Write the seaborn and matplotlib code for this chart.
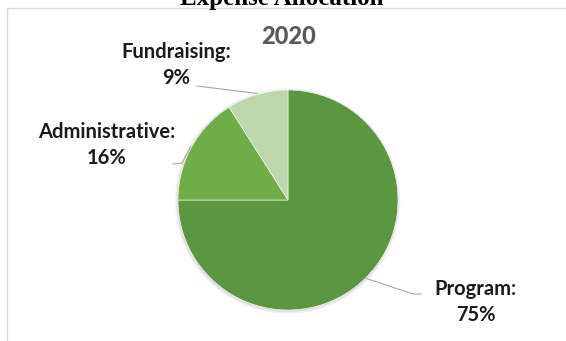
import numpy as np
import matplotlib
matplotlib.use("Agg")
import matplotlib.pyplot as plt
import seaborn as sns
from matplotlib.patches import Circle

sns.set_theme(style="white")
plt.rcParams['font.family'] = ['Lato', 'DejaVu Sans']

# ---- data ----
categories = ["Program", "Administrative", "Fundraising"]
values = [75, 16, 9]
colors = ["#5B9640", "#70AD47", "#BCD7AB"]
title = "Expense Allocation"
subtitle = "2020"

W, H = 566, 341
fig = plt.figure(figsize=(W / 100, H / 100), dpi=100)
fig.patch.set_facecolor("white")
ax = fig.add_axes([0, 0, 1, 1])
ax.set_xlim(0, W)
ax.set_ylim(0, H)
ax.axis("off")

def Y(y_top):
    return H - y_top

cx, cy, R = 288, Y(200), 110

# frame border
ax.plot([7, 7, W + 5], [-5, Y(7.5), Y(7.5)], color="#D9D9D9", lw=1.0, zorder=0)

# soft shadow
for i, a in enumerate([0.05, 0.04, 0.03]):
    ax.add_patch(Circle((cx - 0.5, cy - 1), R + 1 + i, color="black", alpha=a, lw=0, zorder=1))

wedges, _ = ax.pie(values, colors=colors, startangle=90, counterclock=False,
                   center=(cx, cy), radius=R, frame=True,
                   wedgeprops=dict(edgecolor="white", linewidth=0.4, zorder=2))
ax.set_xlim(0, W)
ax.set_ylim(0, H)
ax.axis("off")

# labels
label_pos = {
    "Program": (476, Y(302)),
    "Administrative": (107, Y(145)),
    "Fundraising": (176, Y(65)),
}
elbows = {
    "Program": [(413, Y(294)), (421, Y(294))],
    "Administrative": [(182, Y(163)), (173, Y(164))],
    "Fundraising": [(197, Y(86))],
}
for w, cat, v in zip(wedges, categories, values):
    ang = np.deg2rad((w.theta1 + w.theta2) / 2)
    px, py = cx + (R + 1) * np.cos(ang), cy + (R + 1) * np.sin(ang)
    pts = [(px, py)] + elbows[cat]
    ax.plot([p[0] for p in pts], [p[1] for p in pts], color="#A6A6A6", lw=0.8, zorder=3)
    lx, ly = label_pos[cat]
    ax.text(lx, ly, f"{cat}:\n{v}%", ha="center", va="center", fontsize=14.5,
            fontweight="bold", color="#1A1A1A", linespacing=1.35, zorder=4)

ax.text(288, Y(36), subtitle, ha="center", va="center", fontsize=17,
        fontweight="black", color="#595959")
ax.text(282, Y(4.5), title, ha="center", va="baseline", fontsize=18,
        fontweight="bold", family=["Liberation Serif", "DejaVu Serif"], color="black")

fig.savefig("out.png", dpi=100, facecolor="white")
